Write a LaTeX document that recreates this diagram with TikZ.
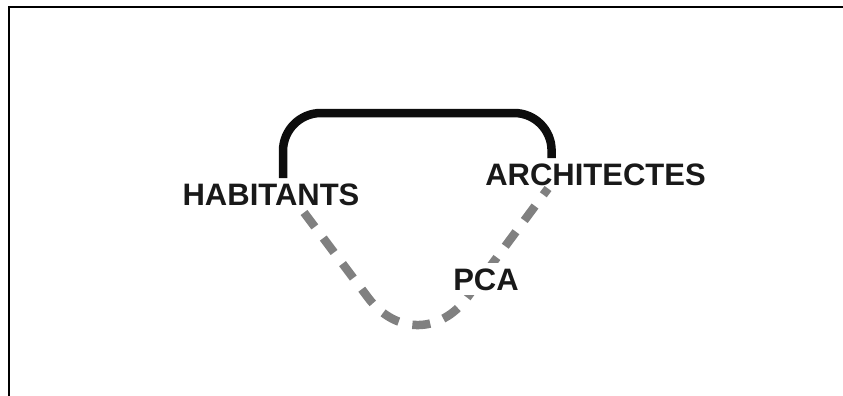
\documentclass[tikz,border=0pt]{standalone}
\usepackage{fontspec}
\setmainfont{Liberation Sans}
\definecolor{dashgray}{RGB}{128,128,128}
\tikzset{
  label/.style={font=\fontsize{31}{31}\selectfont\bfseries, text=black!90, inner sep=2pt},
  solidlink/.style={line width=8.5pt, black!95},
  dashlink/.style={line width=8.5pt, dashgray, dash pattern=on 18pt off 14pt, rounded corners=83pt},
  frame/.style={line width=2.5pt, black}
}
\begin{document}
\begin{tikzpicture}[x=1pt,y=-1pt]
\useasboundingbox (0,0) rectangle (843,396);
\draw[frame] (9,396) -- (9,7) -- (843,7);
\node[label, anchor=base] (hab) at (271,205) {HABITANTS};
\node[label, anchor=base] (arch) at (595.5,185) {ARCHITECTES};
\draw[solidlink, rounded corners=38pt] ([xshift=12pt,yshift=3pt]hab.north) |- (552,113) -- ([xshift=-44pt,yshift=3pt]arch.north);
\draw[dashlink] ([xshift=33pt,yshift=-5pt]hab.south) -- (418,364) -- ([xshift=-47.5pt,yshift=-1pt]arch.south);
\node[label, anchor=base, fill=white, inner sep=5pt] (pca) at (486,290) {PCA};
\end{tikzpicture}
\end{document}
